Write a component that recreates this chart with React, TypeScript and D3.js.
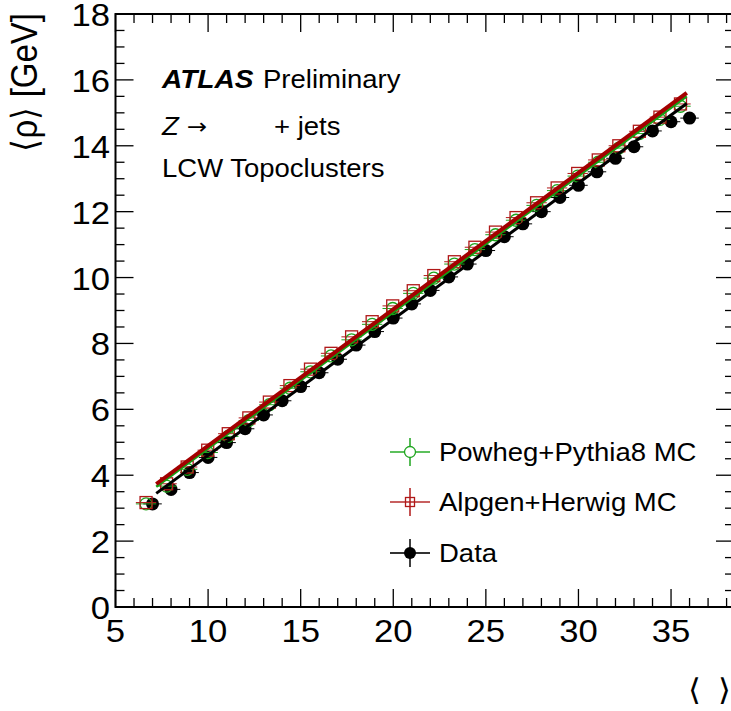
import React from "react";
import * as d3 from "d3";

// ⟨μ⟩ bins of the data and the measured average event density ⟨ρ⟩ [GeV]
const dataMu = [7, 8, 9, 10, 11, 12, 13, 14, 15, 16, 17, 18, 19, 20, 21, 22, 23, 24, 25, 26, 27, 28, 29, 30, 31, 32, 33, 34, 35, 36];
const dataRho = [3.13, 3.57, 4.08, 4.54, 4.99, 5.41, 5.83, 6.26, 6.69, 7.11, 7.52, 7.95, 8.36, 8.77, 9.2, 9.61, 10.02, 10.41, 10.82, 11.24, 11.63, 12.0, 12.43, 12.8, 13.21, 13.62, 13.97, 14.45, 14.73, 14.84];

// Simulated samples share the (rescaled) ⟨μ⟩ positions
const mcMu = [6.65, 7.76, 8.87, 9.98, 11.09, 12.2, 13.31, 14.42, 15.53, 16.64, 17.75, 18.86, 19.97, 21.08, 22.19, 23.3, 24.41, 25.52, 26.63, 27.74, 28.85, 29.96, 31.07, 32.18, 33.29, 34.4, 35.51];
const alpgenRho = [3.17, 3.74, 4.25, 4.76, 5.26, 5.74, 6.22, 6.72, 7.22, 7.7, 8.2, 8.66, 9.14, 9.6, 10.06, 10.48, 10.92, 11.38, 11.82, 12.27, 12.72, 13.16, 13.57, 14.0, 14.44, 14.87, 15.27];
const powhegRho = [3.13, 3.67, 4.18, 4.69, 5.18, 5.66, 6.14, 6.64, 7.14, 7.62, 8.11, 8.58, 9.06, 9.52, 9.98, 10.41, 10.85, 11.3, 11.74, 12.19, 12.64, 13.08, 13.5, 13.93, 14.37, 14.8, 15.2];

// Linear fits ⟨ρ⟩ = a + b·⟨μ⟩ over the fitted range
const fitRange = [7.2, 35.85];
const dataFit = [0.476, 0.413];
const powhegFit = [0.671, 0.4138];
const alpgenFit = [0.751, 0.4143];

const xTicks = [5, 10, 15, 20, 25, 30, 35];
const yTicks = [0, 2, 4, 6, 8, 10, 12, 14, 16, 18];

const legendLabels = ["Powheg+Pythia8 MC", "Alpgen+Herwig MC", "Data"];

const W = 731;
const H = 711;
const FONT = "'Liberation Sans', Arial, Helvetica, sans-serif";
const SYMBOL_FONT = "'DejaVu Sans', sans-serif";
const SX = 1.1;

const GREEN = "#1ea51e";
const RED = "#b01818";
const FIT_RED = "#a30000";
const FIT_GREEN = "#14a014";

function Txt(props: {
  x: number;
  y: number;
  size: number;
  anchor?: "start" | "middle" | "end";
  weight?: string;
  italic?: boolean;
  rotate?: number;
  family?: string;
  children: React.ReactNode;
}) {
  const { x, y, size, anchor = "start", weight = "normal", italic = false, rotate = 0, family = FONT } = props;
  return (
    <text
      transform={`translate(${x},${y}) scale(${SX},1)${rotate ? ` rotate(${rotate})` : ""}`}
      fontFamily={family}
      fontSize={size}
      fontWeight={weight}
      fontStyle={italic ? "italic" : "normal"}
      textAnchor={anchor}
      fill="#000"
    >
      {props.children}
    </text>
  );
}

export default function App() {
  const x = d3.scaleLinear().domain([5, 38.4]).range([115.5, 734]);
  const y = d3.scaleLinear().domain([0, 18]).range([607, 14]);
  const [x0, x1] = x.range();
  const [y0, y1] = y.range();

  const xMinor = d3.range(5, 38.5, 1);
  const yMinor = d3.range(0, 18.01, 0.5);
  const major = 18;
  const minor = 9;

  const fitLine = (f: number[]) =>
    d3.line<number>().x((m) => x(m)).y((m) => y(f[0] + f[1] * m))(fitRange) || "";

  const dataErrX = 0.5;
  const mcErrX = 0.55;

  const legendY = [452, 502, 553];
  const legendX = 410;

  return (
    <svg width={W} height={H} style={{ position: "absolute", left: 0, top: 0, background: "#fff" }}>
      <rect x={0} y={0} width={W} height={H} fill="#fff" />

      {/* frame */}
      <rect x={x0} y={y1} width={x1 - x0} height={y0 - y1} fill="none" stroke="#000" strokeWidth={2} />

      {/* x ticks: bottom and top */}
      {xMinor.map((v) => {
        const len = xTicks.includes(v) ? major : minor;
        return (
          <g key={`xt${v}`} stroke="#000" strokeWidth={1.3}>
            <line x1={x(v)} x2={x(v)} y1={y0} y2={y0 - len} />
            <line x1={x(v)} x2={x(v)} y1={y1} y2={y1 + len} />
          </g>
        );
      })}
      {/* y ticks: left and right */}
      {yMinor.map((v) => {
        const len = yTicks.includes(v) ? major : minor;
        return (
          <g key={`yt${v}`} stroke="#000" strokeWidth={1.3}>
            <line x1={x0} x2={x0 + len} y1={y(v)} y2={y(v)} />
            <line x1={x1} x2={x1 - len} y1={y(v)} y2={y(v)} />
          </g>
        );
      })}

      {/* tick labels */}
      {xTicks.map((v) => (
        <Txt key={`xl${v}`} x={x(v)} y={642} size={31.5} anchor="middle">
          {v}
        </Txt>
      ))}
      {yTicks.map((v) => (
        <Txt key={`yl${v}`} x={110} y={y(v) + 12} size={31.5} anchor="end">
          {v}
        </Txt>
      ))}

      {/* axis titles */}
      <Txt x={37} y={13} size={33} anchor="end" rotate={-90}>
        ⟨ρ⟩ [GeV]
      </Txt>
      <Txt x={688} y={700} size={30}>
        ⟨
      </Txt>
      <Txt x={731} y={700} size={30} anchor="end">
        ⟩
      </Txt>

      {/* data error bars and markers */}
      {dataMu.map((m, i) => (
        <line key={`de${i}`} x1={x(m - dataErrX)} x2={x(m + dataErrX)} y1={y(dataRho[i])} y2={y(dataRho[i])} stroke="#000" strokeWidth={1} />
      ))}
      {dataMu.map((m, i) => (
        <circle key={`dm${i}`} cx={x(m)} cy={y(dataRho[i])} r={6.5} fill="#000" />
      ))}

      {/* MC error bars */}
      {mcMu.map((m, i) => (
        <g key={`me${i}`} strokeWidth={1}>
          <line x1={x(m - mcErrX)} x2={x(m + mcErrX)} y1={y(powhegRho[i])} y2={y(powhegRho[i])} stroke={GREEN} />
          <line x1={x(m - mcErrX)} x2={x(m + mcErrX)} y1={y(alpgenRho[i])} y2={y(alpgenRho[i])} stroke={RED} />
        </g>
      ))}
      {/* Powheg markers: open circles */}
      {mcMu.map((m, i) => (
        <circle key={`pm${i}`} cx={x(m)} cy={y(powhegRho[i])} r={6} fill="none" stroke={GREEN} strokeWidth={1.3} />
      ))}
      {/* Alpgen markers: open squares */}
      {mcMu.map((m, i) => (
        <rect key={`am${i}`} x={x(m) - 6} y={y(alpgenRho[i]) - 6} width={12} height={12} fill="none" stroke={RED} strokeWidth={1.3} />
      ))}

      {/* fitted lines */}
      <path d={fitLine(dataFit)} stroke="#000" strokeWidth={3} fill="none" />
      <path d={fitLine(powhegFit)} stroke={FIT_GREEN} strokeWidth={2.5} fill="none" />
      <path d={fitLine(alpgenFit)} stroke={FIT_RED} strokeWidth={4} fill="none" />

      {/* labels */}
      <Txt x={162} y={88} size={25.5} weight="bold" italic>
        ATLAS
      </Txt>
      <Txt x={263} y={88} size={25}>
        Preliminary
      </Txt>
      <Txt x={162} y={135} size={25} italic>
        Z
      </Txt>
      <Txt x={187} y={134} size={22} family={SYMBOL_FONT}>
        →
      </Txt>
      <Txt x={274} y={135} size={25}>
        + jets
      </Txt>
      <Txt x={162} y={177} size={25}>
        LCW Topoclusters
      </Txt>

      {/* legend */}
      <g>
        <line x1={legendX - 20} x2={legendX + 20} y1={legendY[0]} y2={legendY[0]} stroke="#5cc05c" strokeWidth={2} />
        <line x1={legendX} x2={legendX} y1={legendY[0] - 14} y2={legendY[0] + 14} stroke={GREEN} strokeWidth={1.5} />
        <circle cx={legendX} cy={legendY[0]} r={5.5} fill="#fff" stroke={GREEN} strokeWidth={1.3} />

        <line x1={legendX - 20} x2={legendX + 20} y1={legendY[1]} y2={legendY[1]} stroke="#c86060" strokeWidth={2} />
        <line x1={legendX} x2={legendX} y1={legendY[1] - 14} y2={legendY[1] + 14} stroke={RED} strokeWidth={1.5} />
        <rect x={legendX - 4.5} y={legendY[1] - 4.5} width={9} height={9} fill="none" stroke={RED} strokeWidth={1.3} />

        <line x1={legendX - 20} x2={legendX + 20} y1={legendY[2]} y2={legendY[2]} stroke="#333" strokeWidth={2} />
        <line x1={legendX} x2={legendX} y1={legendY[2] - 14} y2={legendY[2] + 14} stroke="#000" strokeWidth={1.5} />
        <circle cx={legendX} cy={legendY[2]} r={6} fill="#000" />

        {legendLabels.map((t, i) => (
          <Txt key={t} x={439} y={legendY[i] + 8.5} size={25}>
            {t}
          </Txt>
        ))}
      </g>
    </svg>
  );
}
